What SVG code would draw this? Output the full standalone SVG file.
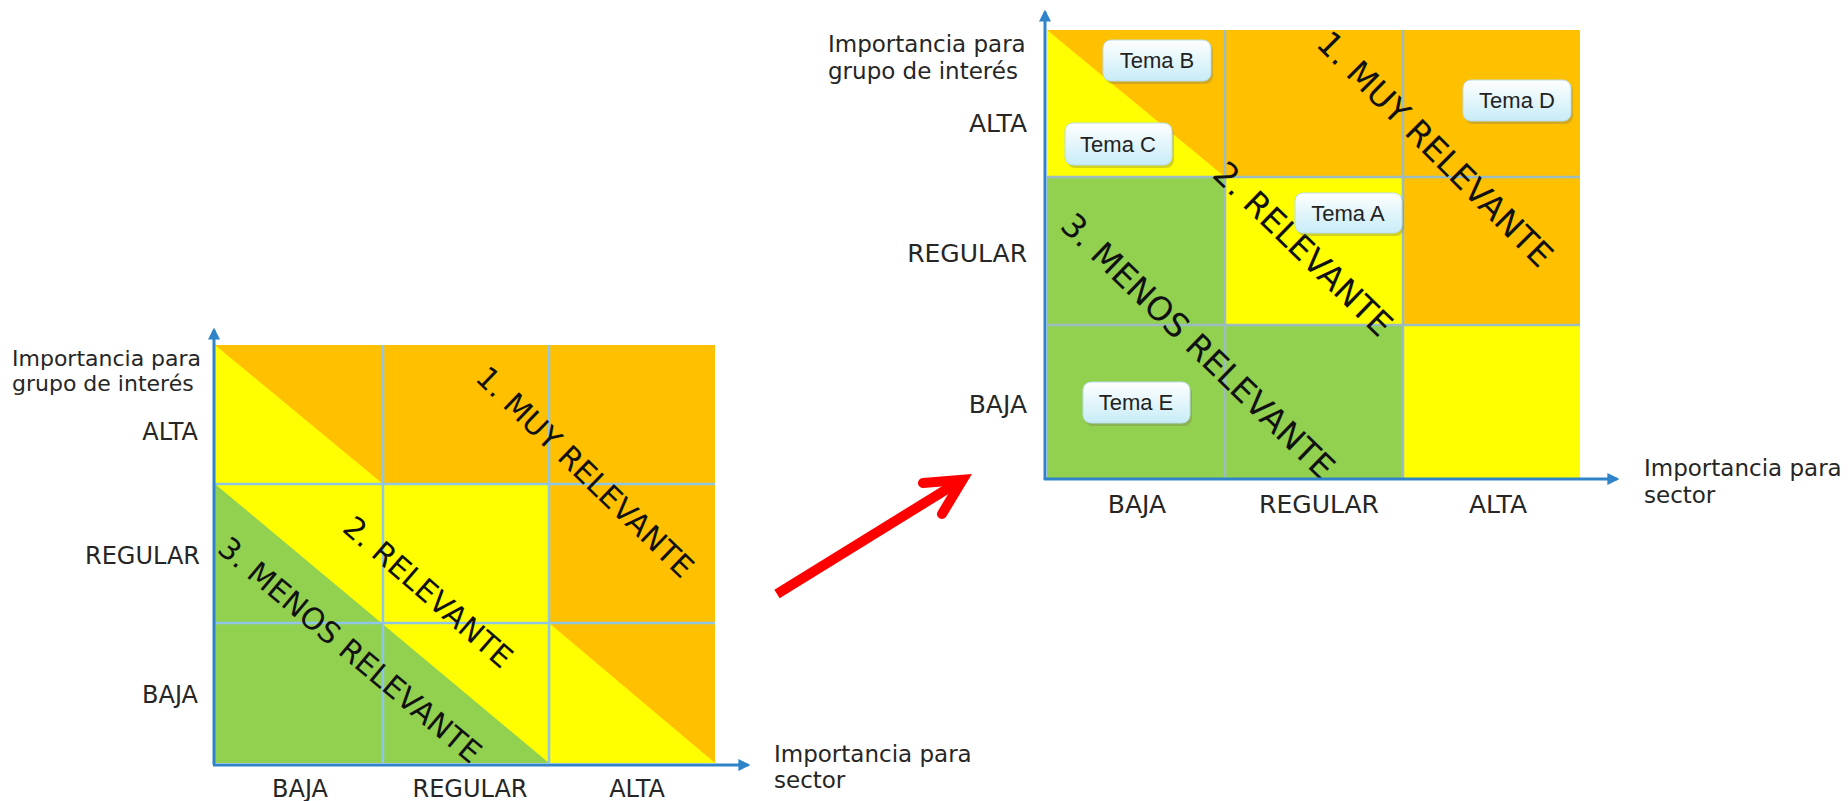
<svg xmlns="http://www.w3.org/2000/svg" width="1848" height="801" viewBox="0 0 1848 801">
<defs>
<style>
.lbl{font-family:"DejaVu Sans",Verdana,sans-serif;fill:#262626}
.diag{font-family:"DejaVu Sans",Verdana,sans-serif;fill:#111;text-anchor:middle;dominant-baseline:central}
.tema{font-family:"Liberation Sans",Arial,sans-serif;font-size:22px;fill:#222;text-anchor:middle}
.or{fill:#FFC000}.ye{fill:#FFFF00}.gr{fill:#92D050}
.gridL{stroke:#8FC6E6;stroke-width:2.5;fill:none}
.gridR{stroke:#9CBCC2;stroke-width:2.5;fill:none}
.axis{stroke:#2E83C9;stroke-width:3;fill:none;marker-end:url(#ax)}
.box{fill:url(#tg);stroke:#B9DDE8;stroke-width:1}
.shadow{fill:#7a7a5a;opacity:0.35}
</style>
<marker id="ax" viewBox="0 0 10 10" refX="8" refY="5" markerWidth="4" markerHeight="4" orient="auto" markerUnits="strokeWidth">
<path d="M0,0 L10,5 L0,10 z" fill="#2E83C9"/>
</marker>
<linearGradient id="tg" x1="0" y1="0" x2="0" y2="1">
<stop offset="0" stop-color="#FFFFFF"/>
<stop offset="1" stop-color="#C7ECF7"/>
</linearGradient>
</defs>
<rect width="1848" height="801" fill="#FFFFFF"/>

<g id="chart-left">
<rect class="ye" x="215" y="345" width="500" height="418"/>
<polygon class="or" points="215,345 715,345 715,763 549,623 549,484 383,484"/>
<polygon class="gr" points="215,484 549,763 215,763"/>
<g class="gridL">
<line x1="383" y1="345" x2="383" y2="763"/>
<line x1="549" y1="345" x2="549" y2="763"/>
<line x1="215" y1="484" x2="715" y2="484"/>
<line x1="215" y1="623" x2="715" y2="623"/>
</g>
<text class="diag" font-size="30" transform="translate(585,472) rotate(44)">1. MUY RELEVANTE</text>
<text class="diag" font-size="30" transform="translate(428,592) rotate(41)">2. RELEVANTE</text>
<text class="diag" font-size="30" transform="translate(350,650) rotate(40)">3. MENOS RELEVANTE</text>
<text class="lbl" x="12" y="366" font-size="22">Importancia para</text>
<text class="lbl" x="12" y="391" font-size="22">grupo de interés</text>
<text class="lbl" x="198" y="440" font-size="24" text-anchor="end">ALTA</text>
<text class="lbl" x="200" y="564" font-size="24" text-anchor="end">REGULAR</text>
<text class="lbl" x="198" y="703" font-size="24" text-anchor="end">BAJA</text>
<text class="lbl" x="300" y="797" font-size="24" text-anchor="middle">BAJA</text>
<text class="lbl" x="470" y="797" font-size="24" text-anchor="middle">REGULAR</text>
<text class="lbl" x="637" y="797" font-size="24" text-anchor="middle">ALTA</text>
<text class="lbl" x="774" y="762" font-size="23">Importancia para</text>
<text class="lbl" x="774" y="788" font-size="23">sector</text>
</g>

<g id="chart-right">
<rect class="ye" x="1047" y="30" width="533" height="448"/>
<polygon class="or" points="1047,30 1580,30 1580,325 1403,325 1403,177 1225,177"/>
<polygon class="gr" points="1047,177 1225,177 1225,325 1403,325 1403,478 1047,478"/>
<g class="gridR">
<line x1="1225" y1="30" x2="1225" y2="478"/>
<line x1="1403" y1="30" x2="1403" y2="478"/>
<line x1="1047" y1="177" x2="1580" y2="177"/>
<line x1="1047" y1="325" x2="1580" y2="325"/>
</g>
<text class="diag" font-size="33" transform="translate(1435,149) rotate(45)">1. MUY RELEVANTE</text>
<text class="diag" font-size="33" transform="translate(1303,249) rotate(44)">2. RELEVANTE</text>
<text class="diag" font-size="33" transform="translate(1198,346) rotate(44)">3. MENOS RELEVANTE</text>
<text class="lbl" x="828" y="52" font-size="23">Importancia para</text>
<text class="lbl" x="828" y="79" font-size="23">grupo de interés</text>
<text class="lbl" x="1027" y="132" font-size="25" text-anchor="end">ALTA</text>
<text class="lbl" x="1027" y="262" font-size="25" text-anchor="end">REGULAR</text>
<text class="lbl" x="1027" y="413" font-size="25" text-anchor="end">BAJA</text>
<text class="lbl" x="1137" y="513" font-size="25" text-anchor="middle">BAJA</text>
<text class="lbl" x="1319" y="513" font-size="25" text-anchor="middle">REGULAR</text>
<text class="lbl" x="1498" y="513" font-size="25" text-anchor="middle">ALTA</text>
<text class="lbl" x="1644" y="476" font-size="23">Importancia para</text>
<text class="lbl" x="1644" y="503" font-size="23">sector</text>
</g>

<g id="tema-b">
<rect class="shadow" x="1105" y="43" width="108" height="41" rx="8"/>
<rect class="box" x="1103" y="40" width="108" height="41" rx="8"/>
<text class="tema" x="1157" y="68">Tema B</text>
</g>
<g id="tema-c">
<rect class="shadow" x="1067" y="126" width="107" height="42" rx="8"/>
<rect class="box" x="1065" y="123" width="107" height="42" rx="8"/>
<text class="tema" x="1118" y="152">Tema C</text>
</g>
<g id="tema-d">
<rect class="shadow" x="1465" y="83" width="108" height="41" rx="8"/>
<rect class="box" x="1463" y="80" width="108" height="41" rx="8"/>
<text class="tema" x="1517" y="108">Tema D</text>
</g>
<g id="tema-a">
<rect class="shadow" x="1297" y="196" width="107" height="40" rx="8"/>
<rect class="box" x="1295" y="193" width="107" height="40" rx="8"/>
<text class="tema" x="1348" y="221">Tema A</text>
</g>
<g id="tema-e">
<rect class="shadow" x="1085" y="385" width="107" height="41" rx="8"/>
<rect class="box" x="1083" y="382" width="107" height="41" rx="8"/>
<text class="tema" x="1136" y="410">Tema E</text>
</g>

<g id="connectors">
<line class="axis" x1="214" y1="765" x2="214" y2="330"/>
<line class="axis" x1="213" y1="765" x2="748" y2="765"/>
<line class="axis" x1="1045" y1="480" x2="1045" y2="12"/>
<line class="axis" x1="1044" y1="479" x2="1617" y2="479"/>
<g stroke="#FF0000" stroke-width="10" fill="none">
<line x1="777" y1="594" x2="960" y2="481" stroke-linecap="butt"/>
<polyline points="923,483 962.6,479.8 942,514" stroke-linecap="round" stroke-linejoin="miter" stroke-miterlimit="10"/>
</g>
</g>
</svg>
